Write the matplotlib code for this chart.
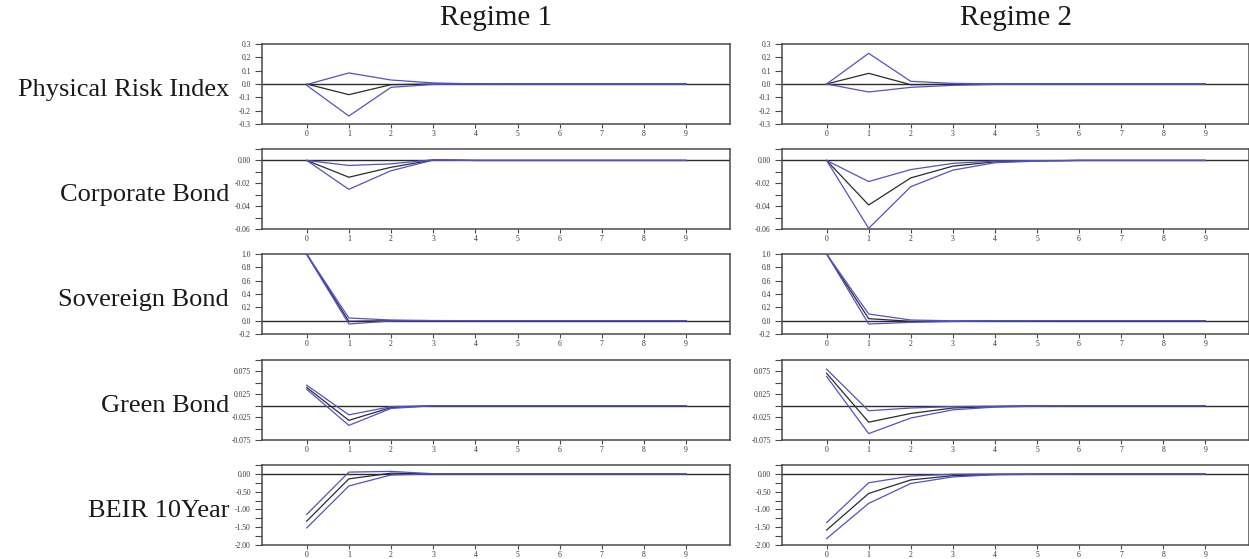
import matplotlib
matplotlib.use("Agg")
import matplotlib.pyplot as plt
from matplotlib.ticker import FixedLocator, FormatStrFormatter

plt.rcParams["font.family"] = ["Liberation Serif", "DejaVu Serif"]
plt.rcParams["axes.unicode_minus"] = False

horizon = list(range(10))

regimes = ["Regime 1", "Regime 2"]
variables = ["Physical Risk Index", "Corporate Bond", "Sovereign Bond", "Green Bond", "BEIR 10Year"]

# impulse responses (mid) with lower / upper bands, one set per regime
pri_r1_mid = [0.0, -0.08, -0.005, 0.0, 0.0, 0.0, 0.0, 0.0, 0.0, 0.0]
pri_r1_hi = [-0.004, 0.083, 0.03, 0.008, 0.001, 0.0, 0.0, 0.0, 0.0, 0.0]
pri_r1_lo = [-0.01, -0.24, -0.025, -0.003, 0.0, 0.0, 0.0, 0.0, 0.0, 0.0]
pri_r2_mid = [0.0, 0.08, -0.005, -0.002, 0.0, 0.0, 0.0, 0.0, 0.0, 0.0]
pri_r2_hi = [0.0, 0.23, 0.02, 0.005, 0.001, 0.0, 0.0, 0.0, 0.0, 0.0]
pri_r2_lo = [0.0, -0.06, -0.025, -0.01, -0.003, -0.001, 0.0, 0.0, 0.0, 0.0]

cb_r1_mid = [0.0, -0.0147, -0.006, 0.0004, 0.0, 0.0, 0.0, 0.0, 0.0, 0.0]
cb_r1_hi = [0.0, -0.0044, -0.003, 0.0006, 0.0, 0.0, 0.0, 0.0, 0.0, 0.0]
cb_r1_lo = [0.0, -0.0253, -0.009, 0.0003, 0.0, 0.0, 0.0, 0.0, 0.0, 0.0]
cb_r2_mid = [0.0, -0.039, -0.0153, -0.005, -0.0012, -0.0004, 0.0, 0.0, 0.0, 0.0]
cb_r2_hi = [0.0, -0.0185, -0.008, -0.0026, -0.0006, -0.0002, 0.0, 0.0, 0.0, 0.0]
cb_r2_lo = [0.0, -0.0594, -0.023, -0.0085, -0.002, -0.0006, 0.0, 0.0, 0.0, 0.0]

sb_r1_mid = [1.0, -0.01, 0.0, 0.0, 0.0, 0.0, 0.0, 0.0, 0.0, 0.0]
sb_r1_hi = [1.0, 0.04, 0.01, 0.002, 0.0, 0.0, 0.0, 0.0, 0.0, 0.0]
sb_r1_lo = [0.99, -0.05, -0.005, 0.0, 0.0, 0.0, 0.0, 0.0, 0.0, 0.0]
sb_r2_mid = [1.0, 0.03, -0.01, -0.008, -0.002, 0.0, 0.0, 0.0, 0.0, 0.0]
sb_r2_hi = [1.0, 0.10, 0.01, -0.002, 0.0, 0.0, 0.0, 0.0, 0.0, 0.0]
sb_r2_lo = [1.0, -0.05, -0.025, -0.012, -0.004, -0.001, 0.0, 0.0, 0.0, 0.0]

gb_r1_mid = [0.040, -0.032, -0.004, 0.0, 0.0, 0.0, 0.0, 0.0, 0.0, 0.0]
gb_r1_hi = [0.045, -0.020, -0.002, 0.0, 0.0, 0.0, 0.0, 0.0, 0.0, 0.0]
gb_r1_lo = [0.036, -0.043, -0.006, 0.0, 0.0, 0.0, 0.0, 0.0, 0.0, 0.0]
gb_r2_mid = [0.071, -0.036, -0.017, -0.005, -0.002, 0.0, 0.0, 0.0, 0.0, 0.0]
gb_r2_hi = [0.080, -0.011, -0.005, -0.002, -0.001, 0.0, 0.0, 0.0, 0.0, 0.0]
gb_r2_lo = [0.064, -0.061, -0.027, -0.009, -0.003, -0.001, 0.0, 0.0, 0.0, 0.0]

beir_r1_mid = [-1.33, -0.14, 0.02, 0.0, 0.0, 0.0, 0.0, 0.0, 0.0, 0.0]
beir_r1_hi = [-1.14, 0.05, 0.07, 0.005, 0.0, 0.0, 0.0, 0.0, 0.0, 0.0]
beir_r1_lo = [-1.52, -0.34, -0.03, 0.0, 0.0, 0.0, 0.0, 0.0, 0.0, 0.0]
beir_r2_mid = [-1.58, -0.55, -0.17, -0.05, -0.015, -0.005, 0.0, 0.0, 0.0, 0.0]
beir_r2_hi = [-1.37, -0.25, -0.06, -0.01, -0.003, 0.0, 0.0, 0.0, 0.0, 0.0]
beir_r2_lo = [-1.82, -0.83, -0.27, -0.085, -0.025, -0.01, -0.002, 0.0, 0.0, 0.0]

responses = [
    [(pri_r1_lo, pri_r1_mid, pri_r1_hi), (pri_r2_lo, pri_r2_mid, pri_r2_hi)],
    [(cb_r1_lo, cb_r1_mid, cb_r1_hi), (cb_r2_lo, cb_r2_mid, cb_r2_hi)],
    [(sb_r1_lo, sb_r1_mid, sb_r1_hi), (sb_r2_lo, sb_r2_mid, sb_r2_hi)],
    [(gb_r1_lo, gb_r1_mid, gb_r1_hi), (gb_r2_lo, gb_r2_mid, gb_r2_hi)],
    [(beir_r1_lo, beir_r1_mid, beir_r1_hi), (beir_r2_lo, beir_r2_mid, beir_r2_hi)],
]

# per-row y axis: limits, labelled ticks, unlabelled ticks, label format
y_limits = [(-0.3, 0.3), (-0.06, 0.01), (-0.2, 1.0), (-0.075, 0.1), (-2.0, 0.25)]
y_major = [
    [-0.3, -0.2, -0.1, 0.0, 0.1, 0.2, 0.3],
    [-0.06, -0.04, -0.02, 0.0],
    [-0.2, 0.0, 0.2, 0.4, 0.6, 0.8, 1.0],
    [-0.075, -0.025, 0.025, 0.075],
    [-2.0, -1.5, -1.0, -0.5, 0.0],
]
y_minor = [
    [],
    [-0.05, -0.03, -0.01, 0.01],
    [],
    [-0.05, 0.0, 0.05, 0.1],
    [-1.75, -1.25, -0.75, -0.25, 0.25],
]
y_fmt = ["%.1f", "%.2f", "%.1f", "%.3f", "%.2f"]

BLUE = "#5252c4"
DARK = "#2b2b2b"
FRAME = "#4a4a4a"

W, H = 1249, 559
fig = plt.figure(figsize=(W / 100, H / 100), dpi=100)

col_left = [262, 782]
col_width = [468, 467]
row_top = [44, 149, 254, 360, 465]
row_height = 80

for r in range(5):
    for c in range(2):
        ax = fig.add_axes([col_left[c] / W, 1 - (row_top[r] + row_height) / H,
                           col_width[c] / W, row_height / H])
        lo, mid, hi = responses[r][c]
        ax.axhline(0, color=DARK, lw=1.0, zorder=1)
        ax.plot(horizon, mid, color=DARK, lw=0.9, zorder=2)
        ax.plot(horizon, lo, color=BLUE, lw=0.9, zorder=3)
        ax.plot(horizon, hi, color=BLUE, lw=0.9, zorder=3)

        ax.set_xlim(-1.06, 10.04)
        ax.set_xticks(horizon)
        ax.set_ylim(*y_limits[r])
        ax.yaxis.set_major_locator(FixedLocator(y_major[r]))
        ax.yaxis.set_minor_locator(FixedLocator(y_minor[r]))
        ax.yaxis.set_major_formatter(FormatStrFormatter(y_fmt[r]))
        ax.tick_params(axis="y", which="both", direction="out", length=5,
                       width=0.8, color=FRAME, labelsize=5.5, labelcolor="#333333", pad=3)
        ax.tick_params(axis="x", which="both", direction="out", length=3,
                       width=0.8, color=FRAME, labelsize=5.5, labelcolor="#333333", pad=1)
        for sp in ax.spines.values():
            sp.set_color(FRAME)
            sp.set_linewidth(1.1)

        if c == 0:
            fig.text(229 / W, 1 - (row_top[r] + row_height / 2 + 6) / H, variables[r],
                     ha="right", va="center", fontsize=19, color="#1a1a1a")
        if r == 0:
            fig.text((col_left[c] + col_width[c] / 2) / W, 1 - 18 / H, regimes[c],
                     ha="center", va="center", fontsize=21, color="#1a1a1a")

fig.savefig("out.png", dpi=100)
